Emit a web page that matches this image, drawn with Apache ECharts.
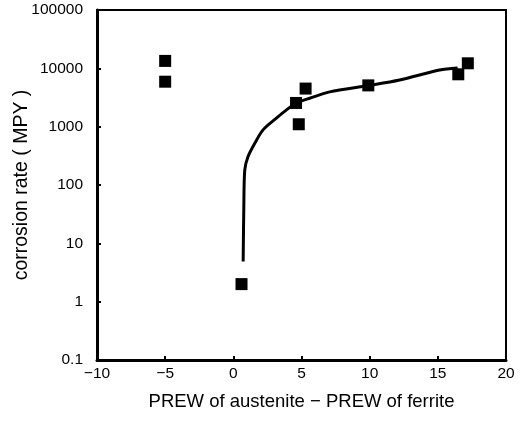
<!DOCTYPE html>
<html>
<head>
<meta charset="utf-8">
<script src="https://cdn.jsdelivr.net/npm/echarts@6/dist/echarts.min.js"></script>
<style>
  html, body { margin: 0; padding: 0; background: #fff; }
  #chart { width: 527px; height: 426px; }
</style>
</head>
<body>
<div id="chart"></div>
<script>
// Measured samples: PREW difference vs corrosion rate
const sampleX = [-5, -5, 0.6, 4.6, 4.8, 5.3, 9.9, 16.5, 17.2];
const sampleY = [13400, 5900, 2, 2550, 1100, 4500, 5100, 7900, 12200];

// Fitted trend curve
const curveX = [0.72, 0.77, 0.84, 1.08, 1.58, 2.18, 3.16, 3.9, 4.63, 5.6, 7.07, 9.88, 12.2, 15.13, 16.45];
const curveY = [4.9, 43, 182, 308, 522, 881, 1400, 1940, 2530, 3075, 3950, 5060, 6320, 9390, 10160];

const xTicks = [-10, -5, 0, 5, 10, 15, 20];
const yTicks = [0.1, 1, 10, 100, 1000, 10000, 100000];

const font = 'Liberation Sans, Arial, sans-serif';
const chart = echarts.init(document.getElementById('chart'));

chart.setOption({
  animation: false,
  backgroundColor: '#fff',
  grid: {
    left: 97, right: 21, top: 10, bottom: 66,
    outerBoundsMode: 'none',
    containLabel: false,
    show: true, borderColor: '#000', borderWidth: 2
  },
  xAxis: {
    type: 'value',
    min: xTicks[0], max: xTicks[xTicks.length - 1], interval: 5,
    name: 'PREW of austenite \u2212 PREW of ferrite',
    nameLocation: 'middle', nameGap: 32, nameMoveOverlap: false,
    nameTextStyle: { color: '#000', fontFamily: font, fontSize: 18.5 },
    axisLine: { onZero: false, lineStyle: { color: '#000', width: 3 } },
    axisTick: { inside: true, length: 4, lineStyle: { color: '#000', width: 2 } },
    axisLabel: {
      color: '#000', fontFamily: font, fontSize: 15.5, margin: 6,
      formatter: v => String(v).replace('-', '\u2212')
    },
    splitLine: { show: false }
  },
  yAxis: {
    type: 'log', logBase: 10,
    min: yTicks[0], max: yTicks[yTicks.length - 1], splitNumber: 6,
    name: 'corrosion rate ( MPY )',
    nameLocation: 'middle', nameGap: 65, nameMoveOverlap: false,
    nameTextStyle: { color: '#000', fontFamily: font, fontSize: 19.5 },
    axisLine: { onZero: false, lineStyle: { color: '#000', width: 3 } },
    axisTick: { inside: true, length: 4, lineStyle: { color: '#000', width: 2 } },
    axisLabel: {
      color: '#000', fontFamily: font, fontSize: 15.5, margin: 14,
      formatter: v => String(+Number(v).toPrecision(6))
    },
    splitLine: { show: false }
  },
  series: [
    {
      type: 'line',
      data: curveX.map((x, i) => [x, curveY[i]]),
      smooth: 0.3,
      showSymbol: false,
      lineStyle: { color: '#000', width: 3 },
      z: 2
    },
    {
      type: 'scatter',
      data: sampleX.map((x, i) => [x, sampleY[i]]),
      symbol: 'rect',
      symbolSize: 12,
      itemStyle: { color: '#000', opacity: 1 },
      z: 3
    }
  ]
});
</script>
</body>
</html>
